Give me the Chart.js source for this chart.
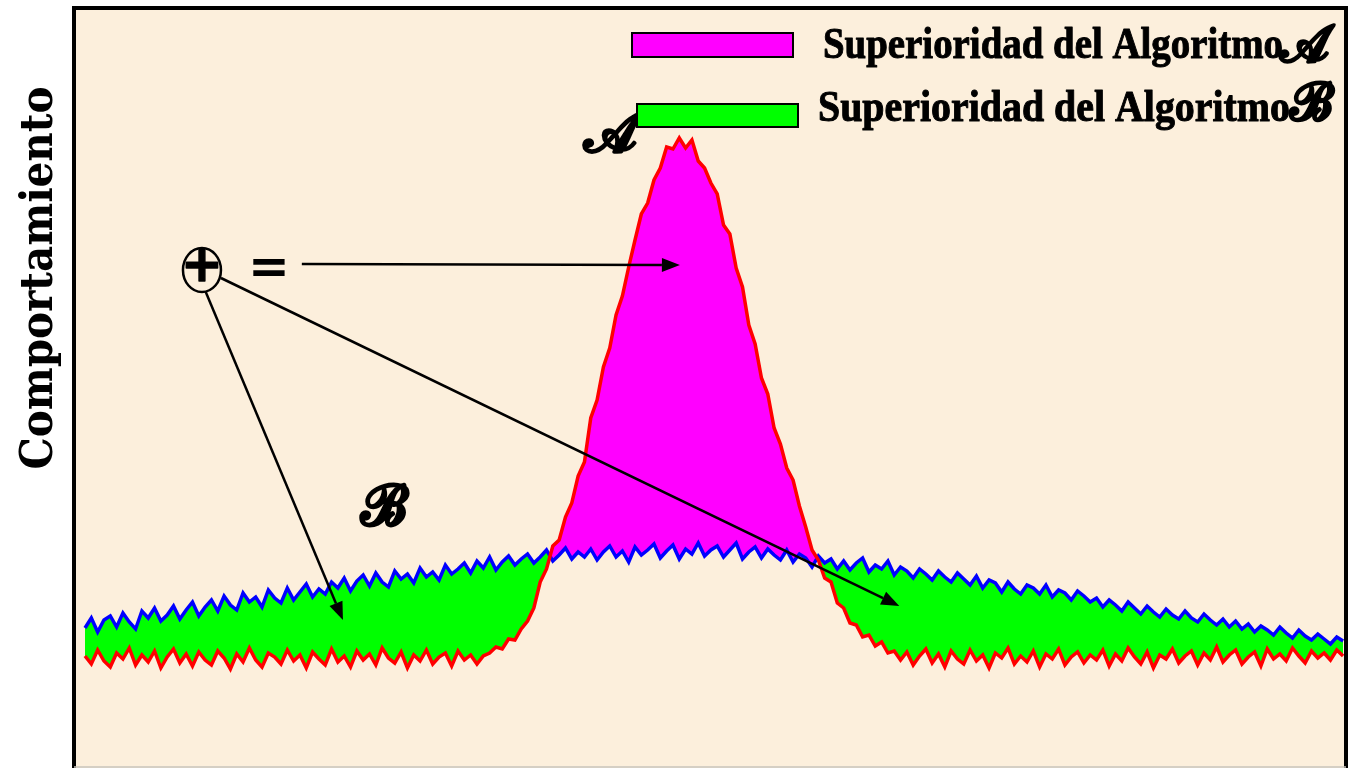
<!DOCTYPE html>
<html>
<head>
<meta charset="utf-8">
<script src="https://cdn.jsdelivr.net/npm/chart.js@4.4.1/dist/chart.umd.min.js"></script>
<style>
  html, body { margin: 0; padding: 0; background: #fff; }
  #wrap { width: 1353px; height: 770px; position: relative; }
</style>
</head>
<body>
<div id="wrap"><canvas id="chart"></canvas></div>
<script>
// Behaviour of algorithm A (red) and B (blue) over the problem range
const algoA = [
  112, 104, 118, 107, 101, 115, 109, 120, 103, 113, 106, 117, 100, 111, 119, 105, 114, 102, 116, 108,
  103, 117, 110, 99, 114, 106, 120, 108, 101, 115, 111, 104, 118, 107, 113, 100, 116, 109, 103, 119,
  106, 112, 101, 117, 108, 114, 103, 120, 110, 105, 116, 100, 113, 107, 118, 104, 111, 115, 102, 117,
  108, 113, 104, 112, 115, 121, 119, 129, 128, 139, 147, 160, 186, 199, 222, 228, 251, 265, 292, 306,
  350, 368, 401, 420, 453, 472, 501, 528, 554, 565, 588, 600, 621, 619, 630, 620, 628, 607, 600, 585,
  574, 543, 534, 500, 481, 443, 424, 390, 374, 340, 324, 300, 288, 262, 241, 218, 208, 190, 186, 165,
  160, 145, 143, 131, 133, 122, 126, 115, 117, 108, 116, 103, 112, 119, 105, 114, 101, 117, 109, 104,
  118, 107, 113, 100, 115, 110, 120, 104, 112, 106, 117, 101, 114, 109, 119, 103, 111, 116, 105, 113,
  108, 118, 102, 114, 107, 120, 111, 104, 116, 100, 113, 109, 119, 105, 112, 117, 103, 115, 108, 121,
  106, 113, 118, 104, 111, 116, 102, 119, 109, 114, 107, 120, 112, 105, 117, 110, 115, 108, 118, 112
];
const algoB = [
  140, 150, 136, 148, 152, 141, 155, 146, 139, 157, 150, 160, 147, 153, 162, 149, 158, 166, 152, 161,
  168, 157, 172, 163, 158, 175, 166, 171, 161, 178, 170, 165, 180, 168, 176, 184, 171, 179, 174, 186,
  180, 190, 177, 187, 193, 182, 195, 186, 181, 197, 189, 194, 185, 200, 191, 196, 188, 203, 194, 199,
  205, 195, 207, 200, 211, 198, 206, 212, 203, 209, 214, 205, 211, 218, 207, 213, 220, 209, 216, 211,
  219, 208, 216, 222, 211, 217, 206, 221, 213, 218, 224, 210, 217, 223, 209, 219, 214, 225, 212, 218,
  222, 211, 218, 225, 209, 216, 221, 210, 219, 213, 208, 218, 206, 214, 210, 201, 212, 205, 209, 199,
  207, 198, 205, 210, 196, 203, 199, 207, 193, 201, 197, 190, 199, 194, 188, 197, 191, 186, 195, 189,
  183, 192, 180, 188, 185, 176, 186, 179, 174, 183, 180, 174, 183, 171, 178, 175, 168, 177, 172, 166,
  170, 161, 168, 163, 157, 166, 160, 154, 162, 156, 151, 159, 153, 149, 157, 150, 146, 154, 148, 143,
  149, 141, 147, 139, 144, 136, 142, 138, 133, 141, 135, 130, 138, 132, 128, 134, 129, 124, 131, 127
];
const steps = algoA.map((_, i) => i);

const legendLabels = ['Superioridad del Algoritmo', 'Superioridad del Algoritmo'];
const legendMarks = ['𝒜', 'ℬ'];
const yTitle = 'Comportamiento';

// annotation anchors in data units (step, value)
const arrows = [
  { from: [34.3, 504], to: [94.1, 503] },
  { from: [21.5, 490], to: [128.8, 162] },
  { from: [19.1, 476], to: [40.8, 148] }
];
const plusMark = [18.5, 498];
const equalsMark = [29.1, 498];
const letterMarks = [
  { text: '𝒜', at: [83.2, 631] },
  { text: 'ℬ', at: [47.4, 258] }
];

function heavyText(ctx, txt, x, y, lw = 2) {
  ctx.lineWidth = lw;
  ctx.lineJoin = 'round';
  ctx.strokeText(txt, x, y);
  ctx.fillText(txt, x, y);
}

const frame = {
  id: 'frame',
  beforeDraw(chart) {
    const { ctx, chartArea: a } = chart;
    ctx.save();
    ctx.fillStyle = '#fcefdc';
    ctx.fillRect(a.left, a.top, a.right - a.left, a.bottom - a.top);
    ctx.restore();
  },
  afterDraw(chart) {
    const { ctx, chartArea: a } = chart;
    ctx.save();
    ctx.strokeStyle = '#000';
    ctx.lineWidth = 4;
    ctx.beginPath();
    ctx.moveTo(a.left, a.bottom);
    ctx.lineTo(a.left, a.top);
    ctx.lineTo(a.right, a.top);
    ctx.lineTo(a.right, a.bottom);
    ctx.stroke();
    ctx.strokeStyle = '#c8c4bc';
    ctx.lineWidth = 1.5;
    ctx.beginPath();
    ctx.moveTo(a.left, a.bottom - 1);
    ctx.lineTo(a.right, a.bottom - 1);
    ctx.stroke();

    // y title
    ctx.fillStyle = '#000';
    ctx.font = 'bold 44px "DejaVu Serif"';
    const tw = ctx.measureText(yTitle).width;
    ctx.translate(52, 278);
    ctx.rotate(-Math.PI / 2);
    ctx.scale(383 / tw, 1);
    ctx.textAlign = 'center';
    ctx.fillText(yTitle, 0, 0);
    ctx.restore();

    // legend
    const rows = [
      { box: [632, 33, 161, 24], color: '#ff00ff', tx: 823, ty: 58, w: 460, mx: 1280, my: 62 },
      { box: [637, 104, 161, 23], color: '#00ff00', tx: 818, ty: 121, w: 472, mx: 1290, my: 120 }
    ];
    rows.forEach((r, i) => {
      ctx.save();
      ctx.fillStyle = r.color;
      ctx.fillRect(...r.box);
      ctx.strokeStyle = '#000';
      ctx.lineWidth = 2;
      ctx.strokeRect(...r.box);
      ctx.fillStyle = '#000';
      ctx.font = 'bold 45px "Liberation Serif"';
      const w = ctx.measureText(legendLabels[i]).width;
      ctx.translate(r.tx, r.ty);
      ctx.scale(r.w / w, 1);
      heavyText(ctx, legendLabels[i], 0, 0, 1);
      ctx.restore();
      ctx.save();
      ctx.font = 'bold 52px "DejaVu Serif"';
      ctx.fillStyle = '#000';
      ctx.strokeStyle = '#000';
      heavyText(ctx, legendMarks[i], r.mx, r.my);
      ctx.restore();
    });
  }
};

const notesPlugin = {
  id: 'notes',
  afterDatasetsDraw(chart) {
    const { ctx, scales: { x, y } } = chart;
    const px = p => [x.getPixelForValue(p[0]), y.getPixelForValue(p[1])];
    ctx.save();
    ctx.strokeStyle = '#000';
    ctx.fillStyle = '#000';
    ctx.lineWidth = 2.5;
    arrows.forEach(a => {
      const [x0, y0] = px(a.from);
      const [x1, y1] = px(a.to);
      const ang = Math.atan2(y1 - y0, x1 - x0);
      const len = 18, half = 7;
      const bx = x1 - len * Math.cos(ang), by = y1 - len * Math.sin(ang);
      ctx.beginPath();
      ctx.moveTo(x0, y0);
      ctx.lineTo(bx, by);
      ctx.stroke();
      ctx.beginPath();
      ctx.moveTo(x1, y1);
      ctx.lineTo(bx + half * Math.sin(ang), by - half * Math.cos(ang));
      ctx.lineTo(bx - half * Math.sin(ang), by + half * Math.cos(ang));
      ctx.closePath();
      ctx.fill();
    });
    const [cx, cy] = px(plusMark);
    ctx.beginPath();
    ctx.ellipse(cx, cy, 19, 22, 0, 0, Math.PI * 2);
    ctx.stroke();
    ctx.textAlign = 'center';
    ctx.textBaseline = 'middle';
    ctx.font = 'bold 50px "DejaVu Sans"';
    heavyText(ctx, '+', cx, cy - 2, 1.5);
    const [ex, ey] = px(equalsMark);
    ctx.font = 'bold 50px "DejaVu Sans"';
    ctx.fillText('=', ex, ey);
    ctx.font = 'bold 56px "DejaVu Serif"';
    letterMarks.forEach(m => {
      const [lx, ly] = px(m.at);
      heavyText(ctx, m.text, lx, ly);
    });
    ctx.restore();
  }
};

new Chart(document.getElementById('chart'), {
  type: 'line',
  data: {
    labels: steps,
    datasets: [
      {
        label: 'Algoritmo A',
        data: algoA,
        borderColor: '#ff0000',
        borderWidth: 3.5,
        pointRadius: 0,
        tension: 0,
        fill: { target: 1, above: '#ff00ff', below: '#00ff00' }
      },
      {
        label: 'Algoritmo B',
        data: algoB,
        borderColor: '#0000ff',
        borderWidth: 3.5,
        pointRadius: 0,
        tension: 0,
        fill: false
      }
    ]
  },
  options: {
    responsive: true,
    maintainAspectRatio: false,
    animation: false,
    layout: { padding: { left: 74, top: 8, right: 7, bottom: 2 } },
    scales: {
      x: { type: 'linear', display: false, min: -1.74, max: 199.46 },
      y: { display: false, min: 0, max: 760 }
    },
    plugins: {
      legend: { display: false },
      tooltip: { enabled: false },
      filler: { drawTime: 'beforeDatasetsDraw' }
    }
  },
  plugins: [frame, notesPlugin]
});
</script>
</body>
</html>
